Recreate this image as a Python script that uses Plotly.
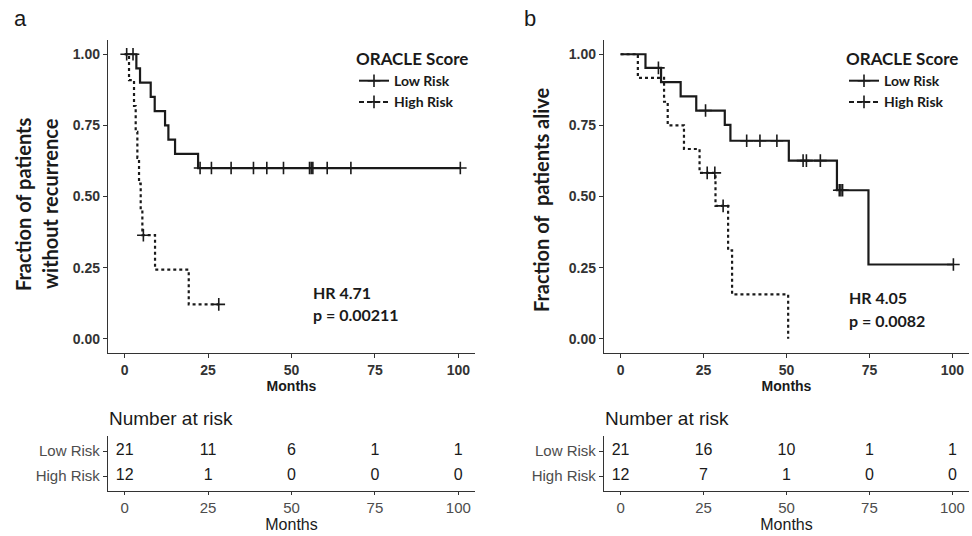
import plotly.graph_objects as go

# ---------------- data ----------------
month_ticks = [0, 25, 50, 75, 100]
surv_ticks = [0.0, 0.25, 0.50, 0.75, 1.00]
groups = ["Low Risk", "High Risk"]

# Panel a: recurrence-free
a_low_event_t = [3.5, 4.6, 7.8, 9.0, 12.1, 13.1, 15.1, 22.0]
a_low_event_s = [0.95, 0.90, 0.85, 0.80, 0.75, 0.70, 0.65, 0.60]
a_low_censor_t = [2.5, 22.6, 26.0, 31.9, 38.6, 42.6, 47.6, 55.4, 55.9, 56.4, 60.7, 67.8, 100.6]
a_high_event_t = [1.3, 2.8, 3.3, 3.8, 4.3, 4.8, 5.3, 9.1, 19.2]
a_high_event_s = [0.909, 0.818, 0.727, 0.636, 0.545, 0.455, 0.364, 0.243, 0.121]
a_high_censor_t = [0.6, 5.6, 28.2]
a_risk_low = [21, 11, 6, 1, 1]
a_risk_high = [12, 1, 0, 0, 0]

# Panel b: overall survival
b_low_event_t = [7.5, 12.2, 18.1, 22.8, 31.4, 33.1, 50.7, 65.2, 74.7]
b_low_event_s = [0.952, 0.902, 0.852, 0.802, 0.752, 0.696, 0.626, 0.522, 0.261]
b_low_censor_t = [11.4, 25.6, 38.0, 42.0, 47.1, 55.0, 56.0, 60.2, 65.9, 66.4, 66.9, 100.3]
b_high_event_t = [5.2, 13.1, 14.2, 19.1, 23.8, 28.6, 32.4, 33.6, 50.5]
b_high_event_s = [0.917, 0.833, 0.75, 0.667, 0.583, 0.467, 0.311, 0.156, 0.0]
b_high_censor_t = [26.1, 28.4, 30.9]
b_risk_low = [21, 16, 10, 1, 1]
b_risk_high = [12, 7, 1, 0, 0]

# ---------------- helpers ----------------
W, H = 972, 536
OFF = 0  # page body margin removed by post_script
def px(x):
    return (x - OFF) / W
def py(y):
    return 1 - (y - OFF) / H

def step_path(event_t, event_s, end_t):
    xs = [0] + list(event_t) + [end_t]
    ys = [1.0] + list(event_s) + [event_s[-1]]
    return xs, ys

def surv_at(t, event_t, event_s):
    s = 1.0
    for et, es in zip(event_t, event_s):
        if et <= t:
            s = es
    return s

INK = "#1a1a1a"
AX = "#333333"
BOLD_SANS = "Lato"
ARIAL = "Liberation Sans, Arial"

fig = go.Figure()

CENSOR = dict(symbol="cross-thin-open", size=9, color=INK, line=dict(color=INK, width=1.6))

def add_curves(xa, ya, ev_t, ev_s, cen_t, dash):
    end_t = max(max(cen_t), ev_t[-1])
    xs, ys = step_path(ev_t, ev_s, end_t)
    fig.add_trace(go.Scatter(x=xs, y=ys, mode="lines", line_shape="hv",
                             line=dict(color=INK, width=2.2, dash=dash),
                             xaxis=xa, yaxis=ya, showlegend=False, hoverinfo="skip"))
    fig.add_trace(go.Scatter(x=cen_t, y=[surv_at(t, ev_t, ev_s) for t in cen_t],
                             mode="markers", marker=CENSOR,
                             xaxis=xa, yaxis=ya, showlegend=False, hoverinfo="skip"))

add_curves("x", "y", a_low_event_t, a_low_event_s, a_low_censor_t, "solid")
add_curves("x", "y", a_high_event_t, a_high_event_s, a_high_censor_t, "dot")
add_curves("x2", "y2", b_low_event_t, b_low_event_s, b_low_censor_t, "solid")
add_curves("x2", "y2", b_high_event_t, b_high_event_s, b_high_censor_t, "dot")

# legend entries
for leg, xa, ya in [("legend", "x", "y"), ("legend2", "x2", "y2")]:
    for g, dash in zip(groups, ["solid", "5px,3px"]):
        fig.add_trace(go.Scatter(x=[None], y=[None], mode="lines+markers", name=g,
                                 line=dict(color=INK, width=2, dash=dash),
                                 marker=CENSOR,
                                 xaxis=xa, yaxis=ya, legend=leg))

# risk tables
for xa, ya, rl, rh in [("x3", "y3", a_risk_low, a_risk_high), ("x4", "y4", b_risk_low, b_risk_high)]:
    for g, vals in zip(groups, [rl, rh]):
        fig.add_trace(go.Scatter(x=month_ticks, y=[g] * len(month_ticks), mode="text",
                                 text=[str(v) for v in vals],
                                 textfont=dict(family=ARIAL, size=16, color=INK),
                                 xaxis=xa, yaxis=ya, showlegend=False, hoverinfo="skip"))

# ---------------- axes ----------------
main_x_dom = [[px(108), px(475)], [px(604), px(969)]]
main_y_dom = [py(353), py(40)]
risk_y_dom = [py(491), py(436)]

def main_xaxis(dom, anchor):
    return dict(domain=dom, anchor=anchor, range=[-5, 105], tickvals=month_ticks,
                showline=True, linecolor=AX, linewidth=1.3, ticks="outside", ticklen=4,
                tickcolor=AX, showgrid=False, zeroline=False,
                tickfont=dict(family=ARIAL, size=14, color=AX, weight="bold"),
                title=dict(text="Months", standoff=2,
                           font=dict(family=ARIAL, size=14, color=INK, weight="bold")))

def main_yaxis(dom, anchor):
    return dict(domain=dom, anchor=anchor, range=[-0.05, 1.05], tickvals=surv_ticks,
                tickformat=".2f", showline=True, linecolor=AX, linewidth=1.3,
                ticks="outside", ticklen=4, tickcolor=AX, showgrid=False, zeroline=False,
                tickfont=dict(family=ARIAL, size=14, color=AX, weight="bold"))

def risk_xaxis(dom, anchor):
    return dict(domain=dom, anchor=anchor, range=[-5, 105], tickvals=month_ticks,
                showline=True, linecolor=AX, linewidth=1.3, ticks="outside", ticklen=3,
                tickcolor=AX, showgrid=False, zeroline=False,
                tickfont=dict(family=ARIAL, size=15, color="#4d4d4d"),
                title=dict(text="Months", standoff=1,
                           font=dict(family=ARIAL, size=16, color=INK)))

def risk_yaxis(dom, anchor):
    return dict(domain=dom, anchor=anchor, type="category",
                categoryorder="array", categoryarray=["High Risk", "Low Risk"],
                range=[-0.6, 1.6], showline=True, linecolor=AX, linewidth=1.3,
                ticks="outside", ticklen=4, tickcolor=AX, showgrid=False, zeroline=False,
                tickfont=dict(family=ARIAL, size=15, color="#4d4d4d"))

fig.update_layout(
    xaxis=main_xaxis(main_x_dom[0], "y"), yaxis=main_yaxis(main_y_dom, "x"),
    xaxis2=main_xaxis(main_x_dom[1], "y2"), yaxis2=main_yaxis(main_y_dom, "x2"),
    xaxis3=risk_xaxis(main_x_dom[0], "y3"), yaxis3=risk_yaxis(risk_y_dom, "x3"),
    xaxis4=risk_xaxis(main_x_dom[1], "y4"), yaxis4=risk_yaxis(risk_y_dom, "x4"),
)

leg_common = dict(xanchor="left", yanchor="top", bgcolor="rgba(0,0,0,0)",
                  font=dict(family=BOLD_SANS, size=14, color=INK, weight="bold"),
                  title=dict(text="ORACLE Score", side="top",
                             font=dict(family=BOLD_SANS, size=17, color=INK, weight="bold")),
                  tracegroupgap=0, itemwidth=30)
fig.update_layout(
    legend=dict(x=px(354), y=py(43), **leg_common),
    legend2=dict(x=px(844), y=py(43), **leg_common),
)

annots = []
def ann(text, x, y, size, family, weight="normal", xanchor="left", angle=0, color=INK):
    annots.append(dict(text=text, x=px(x), y=py(y), xref="paper", yref="paper",
                       xanchor=xanchor, yanchor="middle", showarrow=False, textangle=angle,
                       font=dict(family=family, size=size, color=color, weight=weight)))

ann("a", 12, 19, 22, ARIAL)
ann("b", 522, 19, 22, ARIAL)
ann("Fraction of patients", 23, 204, 20, BOLD_SANS, "bold", "center", -90)
ann("without recurrence", 50, 204, 20, BOLD_SANS, "bold", "center", -90)
ann("Fraction of  patients alive", 541, 200, 20, BOLD_SANS, "bold", "center", -90)
ann("HR 4.71", 311, 292, 16, BOLD_SANS, "bold")
ann("p = 0.00211", 311, 314, 16, BOLD_SANS, "bold")
ann("HR 4.05", 847, 297, 16, BOLD_SANS, "bold")
ann("p = 0.0082", 847, 320, 16, BOLD_SANS, "bold")
ann("Number at risk", 107, 418, 19, ARIAL)
ann("Number at risk", 603, 418, 19, ARIAL)

fig.update_layout(annotations=annots, width=W, height=H,
                  margin=dict(l=0, r=0, t=0, b=0),
                  paper_bgcolor="white", plot_bgcolor="white")

fig.write_html("out.html", config={"displayModeBar": False},
               post_script="document.body.style.margin='0px';")
